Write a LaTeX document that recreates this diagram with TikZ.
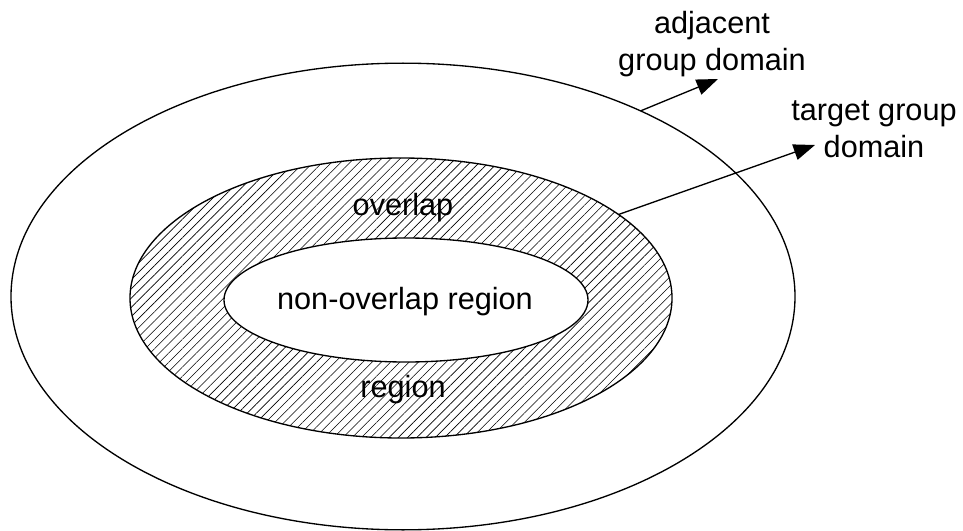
\documentclass[tikz,border=0pt]{standalone}
\usepackage{fontspec}
\setmainfont{Liberation Sans}
\usetikzlibrary{shapes.geometric,patterns.meta,arrows.meta}
\begin{document}
\begin{tikzpicture}[x=0.75pt,y=-0.75pt,
  ring/.style={ellipse, draw, line width=1pt, inner sep=0pt, outer sep=0pt},
  hatch/.style={pattern={Lines[angle=45,distance=4.9pt,line width=0.45pt]}},
  lbl/.style={font=\fontsize{23}{27.5}\selectfont, inner sep=0pt, align=center},
  pointer/.style={line width=1pt, -{Triangle[length=16pt,width=12pt]}}]
\useasboundingbox (0,0) rectangle (963,531);
\node[ring, minimum width=588pt, minimum height=350pt] (outer) at (403,296.5) {};
\node[ring, hatch, minimum width=406.5pt, minimum height=210pt] (middle) at (401,298) {};
\node[ring, fill=white, minimum width=273pt, minimum height=93pt] (inner) at (406,300) {};
\node[lbl, anchor=base] (ovl) at (403,215) {overlap};
\node[lbl, anchor=base] (reg) at (403,397) {region};
\node[lbl, anchor=base] (non) at (405,309) {non-overlap region};
\node[lbl] (adj) at (712,44) {adjacent\\group domain};
\node[lbl] (tgt) at (874,129) {target group\\domain};
\coordinate (adjtip) at (718,79);
\coordinate (tgttip) at (815,145);
\draw[pointer] (outer.38.5) -- (adjtip);
\draw[pointer] (middle.21.3) -- (tgttip);
\end{tikzpicture}
\end{document}
